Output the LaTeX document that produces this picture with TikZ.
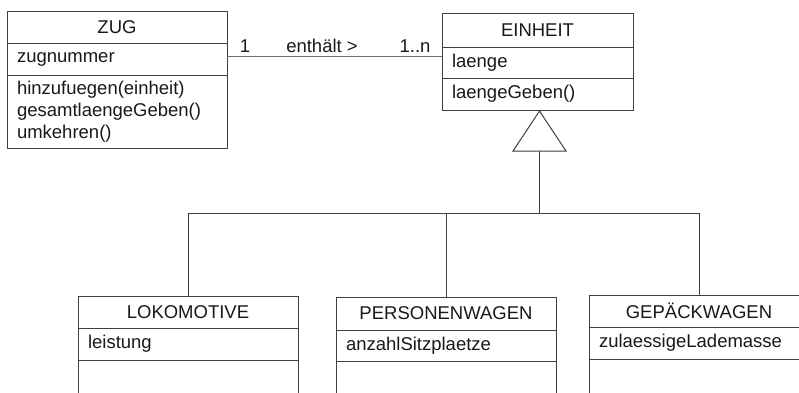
\documentclass[tikz,border=0pt]{standalone}
\usepackage{fontspec}
\setmainfont{Liberation Sans}
\usetikzlibrary{calc}
\definecolor{linec}{HTML}{404040}
\definecolor{assocc}{HTML}{707070}
\newcommand{\umlfs}{\fontsize{18.5}{22}\selectfont}
\begin{document}
\begin{tikzpicture}[x=1pt,y=-1pt]
\tikzset{
  cls/.style={draw=linec, line width=1pt, inner xsep=10pt, inner ysep=0pt, outer sep=0pt, anchor=north west, font=\umlfs, text=black!90},
  ctitle/.style={cls, align=center},
  cbody/.style={cls, align=left},
  conn/.style={draw=linec, line width=1pt},
  assoc/.style={draw=assocc, line width=1pt},
  lbl/.style={font=\umlfs, text=black!90, inner sep=0pt},
}
\useasboundingbox (0,0) rectangle (799,392);
\fill[white] (0,0) rectangle (799,392);
\clip (0,0) rectangle (799,392);

% ZUG
\node[ctitle, text width=200pt, minimum height=32pt] (zugT) at (7,11) {ZUG};
\node[cbody, text width=200pt, minimum height=32pt] (zugA) at (7,43) {zugnummer};
\node[cbody, text width=200pt, minimum height=73pt] (zugM) at (7,75) {hinzufuegen(einheit)\\gesamtlaengeGeben()\\umkehren()};

% EINHEIT
\node[ctitle, text width=171pt, minimum height=34pt] (einT) at (442,13) {EINHEIT};
\node[cbody, text width=171pt, minimum height=31pt] (einA) at (442,47) {laenge};
\node[cbody, text width=171pt, minimum height=32pt] (einM) at (442,78) {laengeGeben()};

% LOKOMOTIVE
\node[ctitle, text width=200pt, minimum height=32pt] (lokT) at (78,296) {LOKOMOTIVE};
\node[cbody, text width=200pt, minimum height=32pt] (lokA) at (78,328) {leistung};
\node[cbody, text width=200pt, minimum height=60pt] (lokM) at (78,360) {};

% PERSONENWAGEN
\node[ctitle, text width=200pt, minimum height=33pt] (perT) at (336,297) {PERSONENWAGEN};
\node[cbody, text width=200pt, minimum height=31pt] (perA) at (336,330) {anzahlSitzplaetze};
\node[cbody, text width=200pt, minimum height=60pt] (perM) at (336,361) {};

% GEPAECKWAGEN
\node[ctitle, text width=200pt, minimum height=32pt] (gepT) at (589,295) {GEPÄCKWAGEN};
\node[cbody, text width=200pt, minimum height=32pt] (gepA) at (589,327) {zulaessigeLademasse};
\node[cbody, text width=200pt, minimum height=60pt] (gepM) at (589,359) {};

% association
\draw[assoc] (zugA.east |- 0,56) -- (einA.west |- 0,56);
\node[lbl] (m1) at (245,46) {1};
\node[lbl] (rel) at (322,46) {enthält >};
\node[lbl] (m2) at (415,46) {1..n};

% generalization
\coordinate (apex) at ($(einM.south)+(2,1)$);
\coordinate (base) at ($(apex)+(0,40)$);
\coordinate (bus) at (apex |- 0,213);
\draw[conn, fill=white] (apex) -- ($(base)+(-26.5,0)$) -- ($(base)+(26.5,0)$) -- cycle;
\draw[conn] (base) -- (bus);
\draw[conn] (lokT.north) -- (lokT.north |- bus) -- (gepT.north |- bus) -- (gepT.north);
\draw[conn] (perT.north) -- (perT.north |- bus);
\end{tikzpicture}
\end{document}
